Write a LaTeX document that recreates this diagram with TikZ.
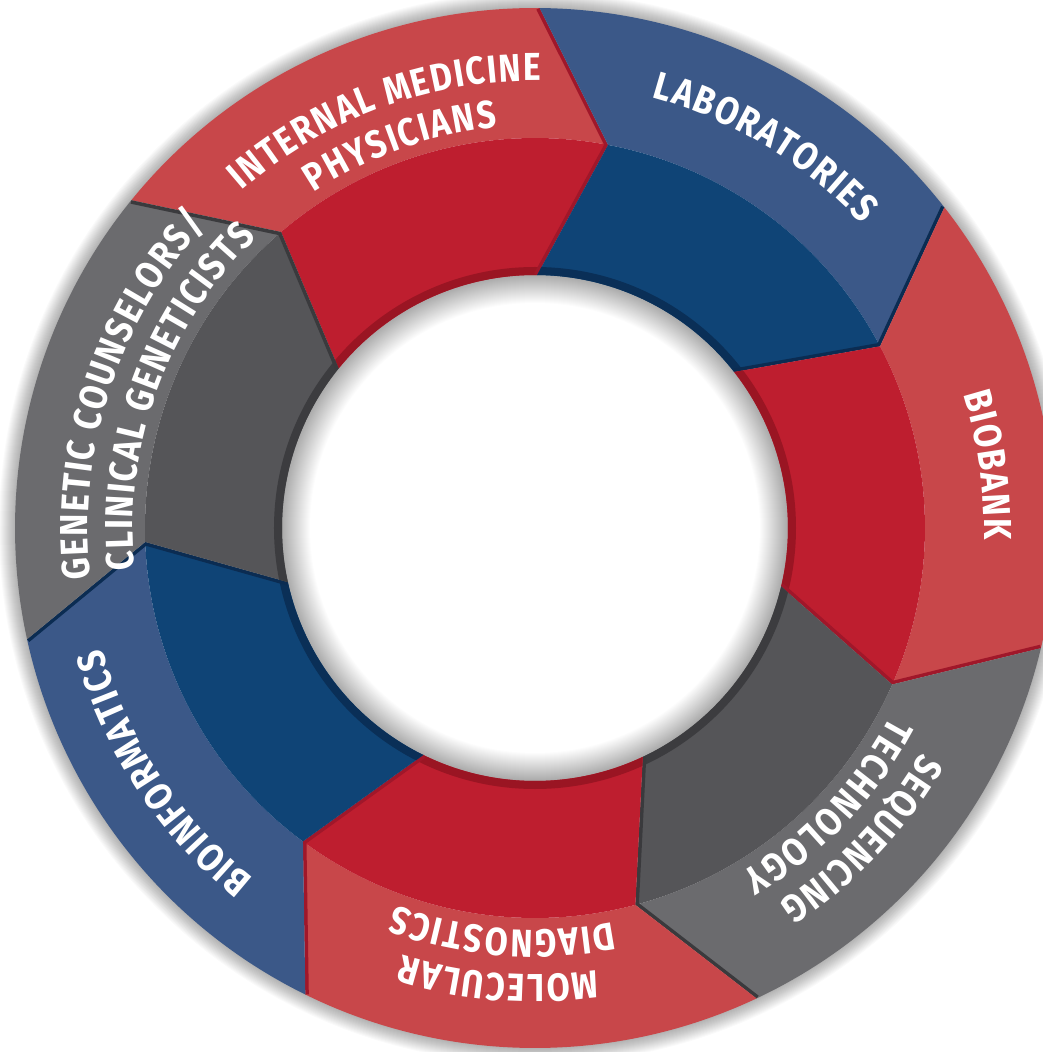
\documentclass[tikz,border=0pt]{standalone}
\usepackage{fontspec}
\usetikzlibrary{decorations.text}
\newfontfamily\labelfont{Fira Sans}[FakeStretch=0.86]
\newcommand\lblfmt{\labelfont\bfseries\fontsize{39pt}{40pt}\selectfont\kern1.6pt}
\definecolor{redO}{HTML}{C8474A}
\definecolor{redI}{HTML}{BE1E2F}
\definecolor{redR}{HTML}{9A1523}
\definecolor{redE}{HTML}{A0172A}
\definecolor{bluO}{HTML}{3B5888}
\definecolor{bluI}{HTML}{0F4476}
\definecolor{bluR}{HTML}{0A2F57}
\definecolor{bluE}{HTML}{0B2C52}
\definecolor{gryO}{HTML}{6B6B6E}
\definecolor{gryI}{HTML}{555558}
\definecolor{gryR}{HTML}{3C3C3F}
\definecolor{gryE}{HTML}{3A3A3D}
\newcommand\arclabel[3]{%
  \path[decorate, decoration={text along path, text align=center, text color=white,
        text={|\lblfmt|#3}}]
     (#1+45:#2) arc[start angle=#1+45, end angle=#1-45, radius=#2];}
\begin{document}
\begin{tikzpicture}
\useasboundingbox (-535pt,-524pt) rectangle (508pt,528pt);
\fill[white] (-535pt,-524pt) rectangle (508pt,528pt);
\clip (-535pt,-524pt) rectangle (508pt,528pt);
% soft shadows
\foreach \w in {2,4,...,32} \draw[black, opacity=0.018, line width=\w pt] (0,0) circle[radius=520pt];
\foreach \w in {2,4,...,56} \draw[black, opacity=0.01, line width=\w pt] (0,0) circle[radius=253pt];
% segments
\foreach \k/\co/\ci/\cr/\ce in {0/redO/redI/redR/redE, 1/bluO/bluI/bluR/bluE,
    2/redO/redI/redR/redE, 3/gryO/gryI/gryR/gryE, 4/redO/redI/redR/redE,
    5/bluO/bluI/bluR/bluE, 6/gryO/gryI/gryR/gryE}{
  \pgfmathsetmacro\angS{140.93-51.4286*\k}
  \pgfmathsetmacro\angE{\angS-51.4286}
  \pgfmathsetmacro\tipS{\angS-10.3}
  \pgfmathsetmacro\tipE{\angE-10.3}
  \fill[\co] (\angS:520pt) arc[start angle=\angS, end angle=\angE, radius=520pt]
     -- (\tipE:390pt) arc[start angle=\tipE, end angle=\tipS, radius=390pt] -- cycle;
  \fill[\ci] (\tipS:390pt) arc[start angle=\tipS, end angle=\tipE, radius=390pt]
     -- (\angE:253pt) arc[start angle=\angE, end angle=\angS, radius=253pt] -- cycle;
  \begin{scope}
    \clip (\tipS:390pt) arc[start angle=\tipS, end angle=\tipE, radius=390pt]
       -- (\angE:253pt) arc[start angle=\angE, end angle=\angS, radius=253pt] -- cycle;
    \fill[\cr] (0,0) circle[radius=261pt];
  \end{scope}
  \begin{scope}
    \clip (\angS:520pt) arc[start angle=\angS, end angle=\angE, radius=520pt]
       -- (\tipE:390pt) -- (\angE:253pt)
       arc[start angle=\angE, end angle=\angS, radius=253pt] -- (\tipS:390pt) -- cycle;
    \draw[\ce, line width=7pt, line join=miter] (\angE:520pt) -- (\tipE:390pt) -- (\angE:253pt);
  \end{scope}
}
% labels
\arclabel{110.2}{447pt}{INTERNAL MEDICINE}
\arclabel{109.5}{402pt}{PHYSICIANS}
\arclabel{59}{446pt}{LABORATORIES}
\arclabel{8}{449pt}{BIOBANK}
\arclabel{-43.5}{447pt}{SEQUENCING}
\arclabel{-43.5}{402pt}{TECHNOLOGY}
\arclabel{-94.5}{447pt}{MOLECULAR}
\arclabel{-94.5}{402pt}{DIAGNOSTICS}
\arclabel{-146.5}{449pt}{BIOINFORMATICS}
\arclabel{162}{447pt}{GENETIC COUNSELORS/}
\arclabel{160}{402pt}{CLINICAL GENETICISTS}
\end{tikzpicture}
\end{document}
